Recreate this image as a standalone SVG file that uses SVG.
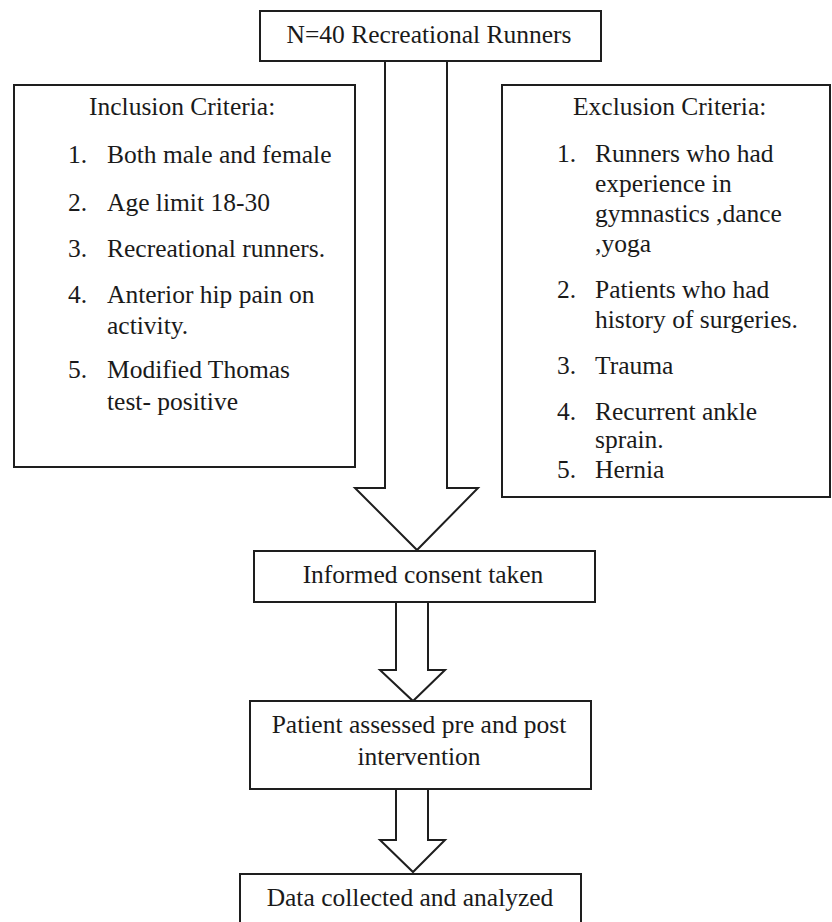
<svg xmlns="http://www.w3.org/2000/svg" width="832" height="922" viewBox="0 0 832 922">
<style>
.box{fill:#fff;stroke:#1e1e1e;stroke-width:2}
.arr{fill:#fff;stroke:#1e1e1e;stroke-width:2;stroke-linejoin:miter}
text{font-family:"Liberation Serif","Times New Roman",serif;font-size:25.5px;fill:#1a1a1a}
.c{text-anchor:middle}
</style>
<rect width="832" height="922" fill="#fff"/>
<g id="connectors">
<path class="arr" d="M385,61 V488 H355 L417,550 L478,488 H447 V61"/>
<path class="arr" d="M396,602 V670 H380 L413,701 L445,670 H428 V602"/>
<path class="arr" d="M396,789 V840 H380 L413,872 L445,840 H428 V789"/>
</g>
<g id="start">
<rect class="box" x="260" y="11" width="341" height="50"/>
<text class="c" x="429" y="43">N=40 Recreational Runners</text>
</g>
<g id="inclusion">
<rect class="box" x="14" y="85" width="341" height="382"/>
<text x="89" y="115">Inclusion Criteria:</text>
<text x="68" y="163">1.</text><text x="107" y="163">Both male and female</text>
<text x="68" y="211">2.</text><text x="107" y="211">Age limit 18-30</text>
<text x="68" y="257">3.</text><text x="107" y="257">Recreational runners.</text>
<text x="68" y="303">4.</text><text x="107" y="303">Anterior hip pain on</text>
<text x="107" y="334">activity.</text>
<text x="68" y="378">5.</text><text x="107" y="378">Modified Thomas</text>
<text x="107" y="410">test- positive</text>
</g>
<g id="exclusion">
<rect class="box" x="502" y="85" width="328" height="412"/>
<text x="573" y="115">Exclusion Criteria:</text>
<text x="557" y="162">1.</text><text x="595" y="162">Runners who had</text>
<text x="595" y="192">experience in</text>
<text x="595" y="222">gymnastics ,dance</text>
<text x="595" y="252">,yoga</text>
<text x="557" y="298">2.</text><text x="595" y="298">Patients who had</text>
<text x="595" y="328">history of surgeries.</text>
<text x="557" y="374">3.</text><text x="595" y="374">Trauma</text>
<text x="557" y="420">4.</text><text x="595" y="420">Recurrent ankle</text>
<text x="595" y="448">sprain.</text>
<text x="557" y="478">5.</text><text x="595" y="478">Hernia</text>
</g>
<g id="consent">
<rect class="box" x="254" y="551" width="341" height="51"/>
<text class="c" x="423" y="583">Informed consent taken</text>
</g>
<g id="assessed">
<rect class="box" x="250" y="701" width="341" height="88"/>
<text class="c" x="419" y="733">Patient assessed pre and post</text>
<text class="c" x="419" y="765">intervention</text>
</g>
<g id="data">
<rect class="box" x="240" y="874" width="341" height="70"/>
<text class="c" x="410" y="906">Data collected and analyzed</text>
</g>
</svg>
